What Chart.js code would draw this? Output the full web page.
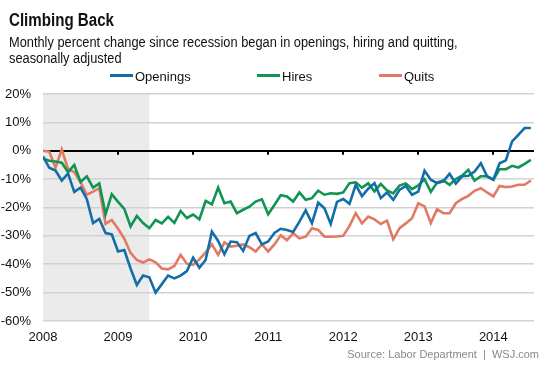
<!DOCTYPE html>
<html>
<head>
<meta charset="utf-8">
<script src="https://cdn.jsdelivr.net/npm/chart.js@4.4.0/dist/chart.umd.min.js"></script>
<style>
  body { margin: 0; background: #fff; font-family: "Liberation Sans", Arial, sans-serif; }
  #wrap { position: relative; width: 553px; height: 369px; overflow: hidden; }
  #chart { position: absolute; left: 0; top: 0; }
  .txt { position: absolute; white-space: nowrap; color: #111; transform-origin: 0 0; }
  #title { left: 9px; top: 10.8px; font-size: 18px; line-height: 18px; font-weight: bold; transform: scaleX(0.84); }
  #sub { left: 9px; top: 33.7px; font-size: 14px; line-height: 16.3px; transform: scaleX(0.915); }
  .leg { position: absolute; top: 70px; font-size: 13px; line-height: 13px; color: #111; white-space: nowrap; }
  .leg i { display: inline-block; width: 23px; height: 3px; vertical-align: 4px; margin-right: 2px; }
  #src { right: 14px; top: 348.7px; font-size: 11px; line-height: 11px; color: #888; }
</style>
</head>
<body>
<div id="wrap">
  <canvas id="chart" width="553" height="369"></canvas>
  <div class="txt" id="title">Climbing Back</div>
  <div class="txt" id="sub">Monthly percent change since recession began in openings, hiring and quitting,<br>seasonally adjusted</div>
  <div class="leg" style="left:110px"><i style="background:#136ea8"></i>Openings</div>
  <div class="leg" style="left:257px"><i style="background:#109452"></i>Hires</div>
  <div class="leg" style="left:379px"><i style="background:#e27a63"></i>Quits</div>
  <div class="txt" id="src">Source: Labor Department &nbsp;|&nbsp; WSJ.com</div>
</div>
<script>
/* month index 0 = Dec 2007 (recession start), last = Jun 2014 */
const yearLabels = ['2008', '2009', '2010', '2011', '2012', '2013', '2014'];
const yearTicks  = [0, 12, 24, 36, 48, 60, 72];
const recessionEnd = 17;   // June 2009

const openings = [
  -2, -6, -7, -10.5, -8, -14.5, -13, -17, -25.5, -24,
  -29, -29.5, -35.5, -35, -41.5, -47.3, -44, -44.6, -50, -47,
  -44, -45, -44, -42.4, -37.7, -41.2, -38.5, -28.5, -31.8, -36.5,
  -32, -32.2, -35.3, -30, -29, -33, -32, -29, -27.5, -27.9,
  -28.6, -25, -21, -25.5, -18.3, -20.3, -25.8, -18, -17, -18.7,
  -12, -16, -13.4, -11.4, -16.7, -14.7, -17.3, -13.8, -12.4, -15.5,
  -14.4, -7, -10.2, -11.4, -10.8, -8.1, -11.6, -9, -8.8, -7.3,
  -4.4, -9, -10.2, -4.4, -3.4, 3.3, 5.6, 8, 8
];
const hires = [
  -2.8, -3.5, -3.8, -4.2, -7.5, -5, -11, -9, -13, -11.5,
  -22.4, -15.3, -18, -20.5, -26.7, -23, -25.5, -27.3, -24.4, -25.6,
  -23.3, -25.4, -21.2, -23.7, -22.5, -24.2, -17.7, -18.9, -13, -18.5,
  -17.9, -22, -20.8, -19.7, -17.9, -17.1, -22.4, -19.1, -15.7, -16.1,
  -17.9, -14.7, -17.3, -16.7, -14.1, -15.5, -15, -15.2, -14.7, -11.4,
  -11.1, -13, -11.5, -14.3, -11.7, -14, -15, -12.3, -11.5, -13.5,
  -12.2, -10, -14.5, -11.2, -10.5, -12, -10, -8.8, -6.7, -10.5,
  -9, -9, -10.2, -6.5, -6.5, -5.3, -5.9, -4.6, -3.2
];
const quits = [
  0, -0.3, -6, 0.5, -6.5, -7.5, -11, -15.5, -14.4, -13.2,
  -25.8, -24.4, -27.5, -31, -36, -38.5, -39.4, -38.3, -39.3, -41.5,
  -41.8, -40.6, -36.7, -39.8, -40.2, -38.3, -35.8, -33, -36.7, -32.3,
  -33.8, -33.5, -33, -34, -35.5, -33, -35.5, -33, -29.8, -31.5,
  -29.1, -30.9, -30.3, -27.3, -27.9, -30.3, -30.3, -30.2, -30, -26.5,
  -22, -25.6, -23.2, -24.2, -25.8, -24.6, -31.2, -27.3, -25.6, -23.8,
  -18.5, -19.6, -25.5, -20.6, -22, -22, -18.5, -17, -15.9, -14.1,
  -13.2, -14.7, -16.1, -12.4, -12.8, -12.6, -12, -12, -10.5
];

const FONT = "'Liberation Sans', Arial, sans-serif";

function series(label, values, color) {
  return {
    label,
    data: values.map((v, i) => ({ x: i, y: v })),
    borderColor: color,
    borderWidth: 2.6,
    pointRadius: 0,
    tension: 0,
    fill: false,
  };
}

/* grey recession band, behind the grid */
const recessionBand = {
  id: 'recessionBand',
  beforeDraw(chart) {
    const { ctx, chartArea, scales } = chart;
    const x0 = scales.x.getPixelForValue(0);
    const x1 = scales.x.getPixelForValue(recessionEnd);
    ctx.save();
    ctx.fillStyle = '#ebebeb';
    ctx.fillRect(x0, chartArea.top, x1 - x0, chartArea.bottom - chartArea.top);
    ctx.restore();
  }
};

/* small year ticks hanging off the zero line */
const zeroTicks = {
  id: 'zeroTicks',
  beforeDatasetsDraw(chart) {
    const { ctx, scales } = chart;
    const y0 = scales.y.getPixelForValue(0);
    ctx.save();
    ctx.strokeStyle = '#000';
    ctx.lineWidth = 2;
    yearTicks.slice(1).forEach(t => {
      const x = Math.round(scales.x.getPixelForValue(t));
      ctx.beginPath();
      ctx.moveTo(x, y0);
      ctx.lineTo(x, y0 + 4);
      ctx.stroke();
    });
    ctx.restore();
  }
};

new Chart(document.getElementById('chart'), {
  type: 'line',
  data: {
    datasets: [
      series('Openings', openings, '#136ea8'),
      series('Hires',    hires,    '#109452'),
      series('Quits',    quits,    '#e27a63'),
    ]
  },
  options: {
    responsive: false,
    animation: false,
    layout: { padding: { top: 94, right: 19, bottom: 0, left: 0 } },
    plugins: { legend: { display: false }, tooltip: { enabled: false } },
    scales: {
      x: {
        type: 'linear',
        min: 0,
        max: 78.5,
        afterFit: s => { s.height = 48; },
        afterBuildTicks: s => { s.ticks = yearTicks.map(v => ({ value: v })); },
        grid: { display: false },
        border: { display: false },
        ticks: {
          autoSkip: false,
          maxRotation: 0,
          padding: 1,
          color: '#111',
          font: { family: FONT, size: 13 },
          callback: v => yearLabels[yearTicks.indexOf(v)],
        }
      },
      y: {
        min: -60,
        max: 20,
        afterFit: s => { s.width = 43; },
        grid: {
          drawTicks: false,
          color: c => c.tick.value === 0 ? '#000' : '#d2d2d2',
          lineWidth: c => c.tick.value === 0 ? 2 : 1.6,
        },
        border: { display: false },
        ticks: {
          stepSize: 10,
          padding: 12,
          color: '#111',
          font: { family: FONT, size: 13 },
          callback: v => v + '%',
        }
      }
    }
  },
  plugins: [recessionBand, zeroTicks],
});
</script>
</body>
</html>
